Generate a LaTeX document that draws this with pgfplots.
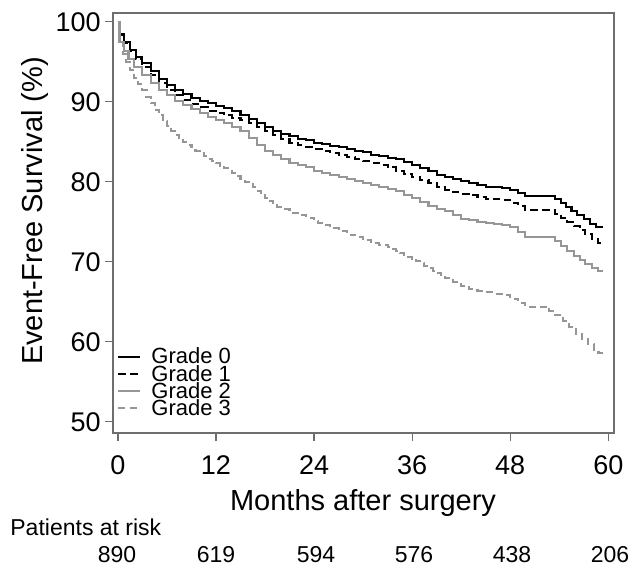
\documentclass[border=0pt]{standalone}
\usepackage{pgfplots}
\pgfplotsset{compat=1.18}
\usepackage{fontspec}
\setmainfont{Liberation Sans}
\definecolor{kmgray}{RGB}{150,150,150}
\definecolor{axgray}{RGB}{110,110,110}
\begin{document}
\begin{tikzpicture}
\useasboundingbox (0,0) rectangle (315pt,283.5pt);
\begin{axis}[
  at={(56.5pt,67pt)}, anchor=south west,
  width=250.5pt, height=210pt, scale only axis,
  xmin=-0.6, xmax=60.7, ymin=48.6, ymax=101.1,
  xtick={0,12,24,36,48,60}, ytick={50,60,70,80,90,100},
  tick pos=left, tick align=outside, major tick length=4pt,
  tick style={color=axgray, line width=0.6pt},
  axis line style={axgray, line width=0.6pt},
  /pgf/number format/assume math mode=true,
  tick label style={font=\fontsize{13.5}{15}\selectfont, inner sep=0pt},
  xticklabel style={yshift=-7pt},
  yticklabel style={xshift=-2pt},
  legend cell align=left,
  legend image code/.code={\draw[#1] (0pt,0pt) -- (11pt,0pt);},
  legend style={at={(-0.004,0.03)}, anchor=south west, draw=none, fill=none,
    font=\fontsize{11}{12}\selectfont, row sep=0.5pt, column sep=4.5pt,
    nodes={inner sep=0.5pt, text height=7pt, text depth=0pt}},
]
\addplot[const plot, black, line width=1.05pt] coordinates {
(0,100) (0.3,98.5) (0.8,97.5) (1.5,96.5) (2.2,95.6) (3,94.9) (4,93.8) (5,92.8) (6,92.1) (7,91.5) (8,91.0) (9,90.5) (10,90.1) (11,89.8) (12,89.5) (13,89.2) (14,88.9) (15,88.4) (16,87.8) (17,87.3) (18,86.8) (19,86.4) (20,86.0) (21,85.7) (22,85.4) (23,85.2) (24,84.9) (25,84.7) (26,84.5) (27,84.3) (28,84.1) (29,83.9) (30,83.7) (31,83.4) (32,83.2) (33,83.0) (34,82.8) (35,82.5) (36,82.1) (37,81.7) (38,81.3) (39,80.9) (40,80.6) (41,80.4) (42,80.1) (43,79.8) (44,79.6) (45,79.4) (46,79.3) (47,79.2) (48,79.0) (49,78.6) (49.8,78.2) (53.5,77.8) (54.2,77.3) (54.8,76.8) (55.5,76.3) (56.2,75.8) (57,75.3) (57.8,74.7) (58.5,74.3) (59.3,74.3)
};
\addlegendentry{Grade 0}
\addplot[const plot, black, line width=1.05pt, dash pattern=on 3.8pt off 2.2pt] coordinates {
(0,100) (0.3,98.3) (0.8,97.3) (1.5,96.3) (2.2,95.3) (3,94.4) (4,93.3) (5,92.3) (6,91.5) (7,90.8) (8,90.2) (9,89.7) (10,89.3) (11,88.9) (12,88.6) (13,88.3) (14,88.0) (15,87.7) (16,87.3) (17,86.8) (18,86.3) (19,85.8) (20,85.3) (21,84.9) (22,84.6) (23,84.4) (24,84.1) (25,83.9) (26,83.6) (27,83.3) (28,83.1) (29,82.8) (30,82.6) (31,82.4) (32,82.1) (33,81.8) (34,81.4) (35,81.0) (36,80.6) (37,80.2) (38,79.8) (39,79.3) (40,79.0) (41,78.7) (42,78.5) (43,78.3) (44,78.1) (45,77.9) (46,77.8) (47,77.7) (48,77.4) (49,77.0) (49.8,76.5) (53.5,76.0) (54.2,75.5) (55,75.0) (55.8,74.5) (56.5,74.0) (57.2,73.5) (58,72.9) (58.7,72.4) (59.3,72.4)
};
\addlegendentry{Grade 1}
\addplot[const plot, kmgray, line width=1.05pt] coordinates {
(0,100) (0.2,97.5) (0.7,96.3) (1.3,95.3) (2,94.4) (3,93.3) (4,92.3) (5,91.5) (6,90.8) (7,90.1) (8,89.6) (9,89.1) (10,88.6) (11,88.1) (12,87.7) (13,87.3) (14,86.9) (15,86.3) (16,85.5) (17,84.6) (18,83.9) (19,83.3) (20,82.8) (21,82.4) (22,82.1) (23,81.8) (24,81.4) (25,81.1) (26,80.9) (27,80.6) (28,80.3) (29,80.1) (30,79.9) (31,79.6) (32,79.3) (33,79.1) (34,78.8) (35,78.4) (36,78.0) (37,77.5) (38,77.0) (39,76.6) (40,76.3) (41,75.9) (42,75.4) (43,75.2) (44,75.0) (45,74.9) (46,74.7) (47,74.6) (48,74.3) (49,73.7) (49.8,73.1) (53.5,72.6) (54.2,72.0) (55,71.3) (55.8,70.7) (56.5,70.2) (57.2,69.7) (58,69.2) (58.7,68.8) (59.3,68.8)
};
\addlegendentry{Grade 2}
\addplot[const plot, kmgray, line width=1.05pt, dash pattern=on 3.5pt off 2.2pt] coordinates {
(0,100) (0.2,97.5) (0.6,96.0) (1.0,95.0) (1.5,94.0) (2,93.0) (2.5,92.2) (3,91.5) (3.5,90.6) (4,89.8) (4.5,89.0) (5,88.3) (5.5,87.6) (6,87.0) (6.5,86.4) (7,85.9) (7.5,85.4) (8,85.0) (8.5,84.6) (9,84.3) (9.5,83.9) (10,83.6) (10.5,83.2) (11,82.9) (11.5,82.6) (12,82.3) (12.5,82.0) (13,81.7) (13.5,81.4) (14,81.1) (14.5,80.7) (15,80.4) (15.5,80.0) (16,79.7) (16.5,79.3) (17,78.9) (17.5,78.4) (18,78.0) (18.5,77.6) (19,77.3) (19.5,76.9) (20,76.6) (21,76.1) (22,75.8) (23,75.5) (24,75.1) (24.5,74.8) (25,74.6) (26,74.2) (27,73.8) (28,73.4) (29,73.1) (30,72.7) (31,72.3) (32,72.1) (33,71.9) (33.5,71.6) (34,71.4) (34.5,71.1) (35,70.9) (35.5,70.6) (36,70.4) (36.5,70.1) (37,69.8) (37.5,69.5) (38,69.2) (38.5,68.9) (39,68.6) (39.5,68.3) (40,68.0) (40.5,67.7) (41,67.5) (41.5,67.2) (42,67.0) (43,66.6) (44,66.4) (45,66.2) (46,66.0) (47,65.8) (48,65.4) (49,64.9) (49.8,64.4) (52.8,63.9) (53.5,63.3) (54.5,62.6) (55.2,61.9) (56,61.0) (56.8,60.3) (57.5,59.7) (58.2,59.0) (58.8,58.6) (59.3,58.6)
};
\addlegendentry{Grade 3}
\end{axis}
\node[rotate=90, font=\fontsize{14.5}{16}\selectfont] at (17.5pt,178pt) {Event-Free Survival (\%)};
\node[anchor=base, font=\fontsize{14.5}{16}\selectfont, inner sep=0pt] at (181.5pt,28.5pt) {Months after surgery};
\node[anchor=base west, font=\fontsize{11.5}{13}\selectfont, inner sep=0pt] at (5pt,16pt) {Patients at risk};
\foreach \xx/\nn in {58.5/890, 108/619, 158/594, 207/576, 256/438, 305/206}{
  \node[anchor=base, font=\fontsize{11.5}{13}\selectfont, inner sep=0pt] at (\xx pt,2.5pt) {\nn};
}
\end{tikzpicture}
\end{document}
